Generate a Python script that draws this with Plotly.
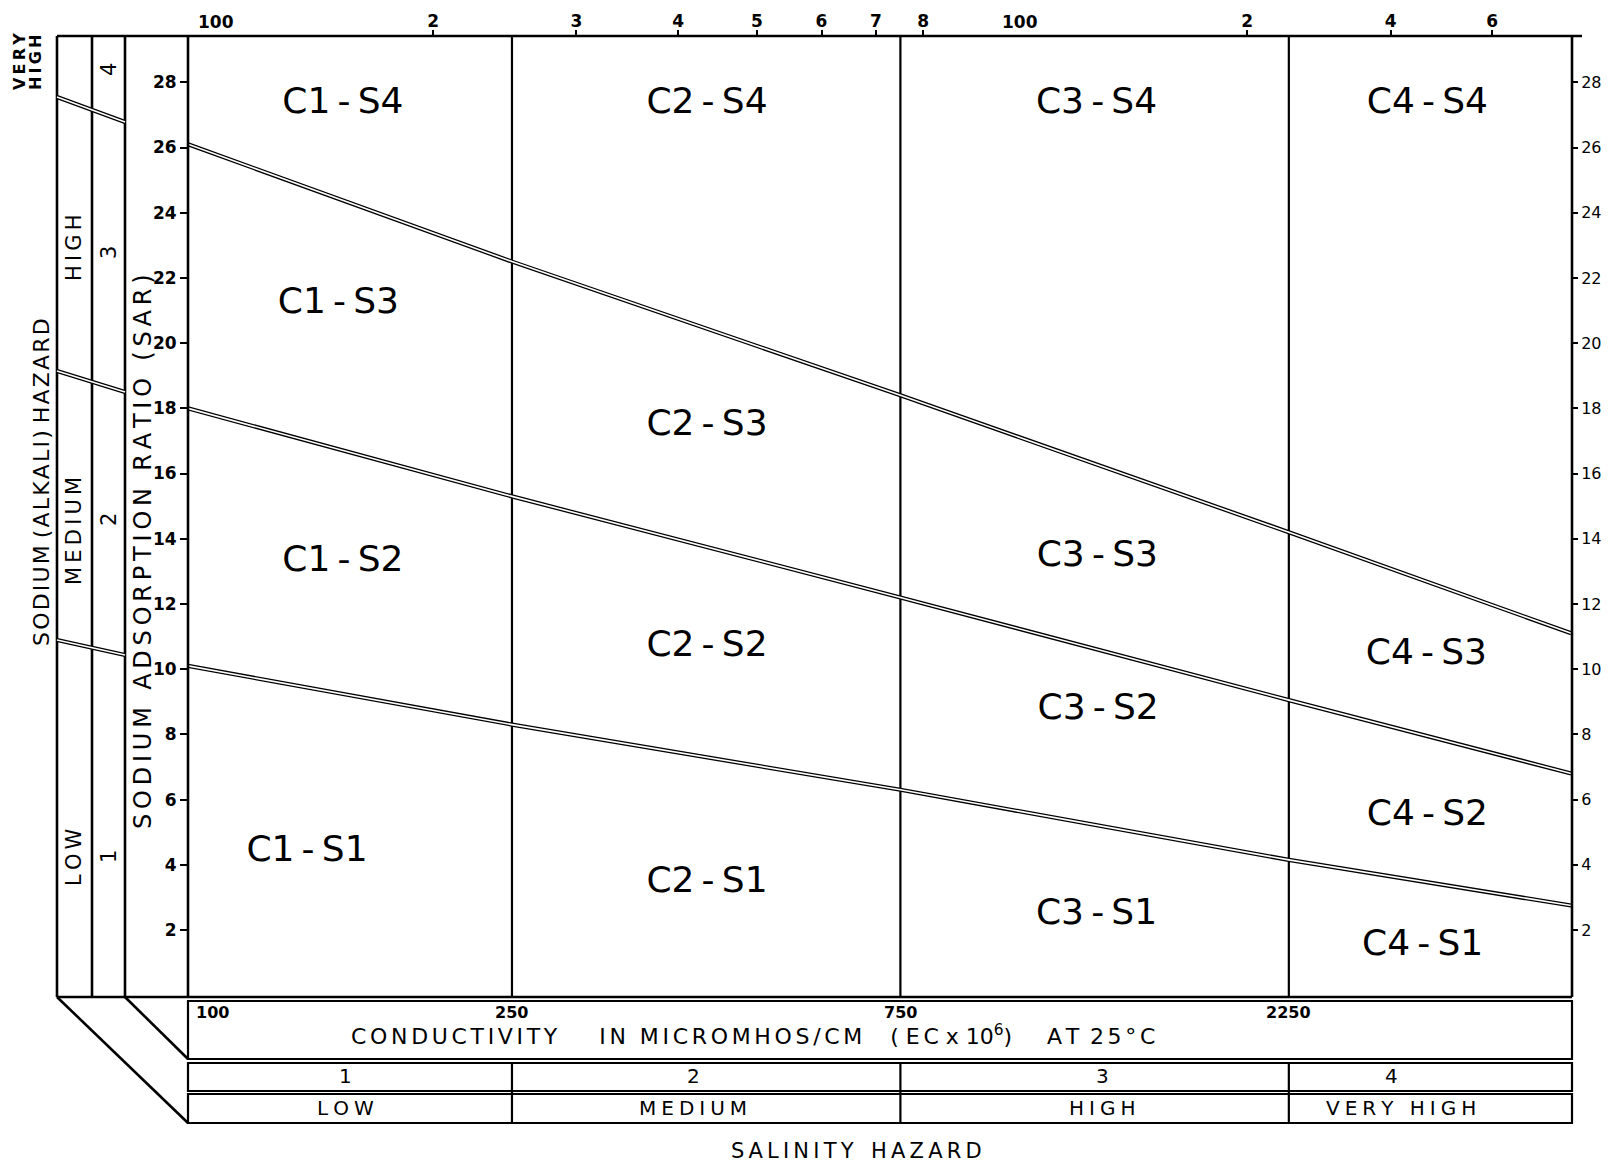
import numpy as np
import plotly.graph_objects as go

# ---------------- data ----------------
ec_points = [100, 250, 750, 2250, 5000]              # EC (micromhos/cm) where the class lines were read
sar_low_medium = [10.1, 8.3, 6.3, 4.15, 2.75]        # S1 / S2 boundary
sar_medium_high = [18.0, 15.3, 12.2, 9.05, 6.8]      # S2 / S3 boundary
sar_high_veryhigh = [26.1, 22.5, 18.4, 14.2, 11.1]   # S3 / S4 boundary

salinity_bounds = [250, 750, 2250]
salinity_numbers = ["1", "2", "3", "4"]
salinity_names = ["LOW", "MEDIUM", "HIGH", "VERY HIGH"]

sodium_numbers = ["4", "3", "2", "1"]
sodium_names = ["HIGH", "MEDIUM", "LOW"]

region_labels = ["C1-S4", "C2-S4", "C3-S4", "C4-S4",
                 "C1-S3", "C2-S3", "C3-S3", "C4-S3",
                 "C1-S2", "C2-S2", "C3-S2", "C4-S2",
                 "C1-S1", "C2-S1", "C3-S1", "C4-S1"]
region_ec = [155, 434, 1306, 3330,
             153, 434, 1309, 3320,
             155, 434, 1312, 3330,
             140, 434, 1306, 3285]
region_sar = [27.34, 27.34, 27.34, 27.34,
              21.2, 17.47, 13.44, 10.44,
              13.3, 10.67, 8.75, 5.49,
              4.4, 3.44, 2.46, 1.52]

sar_ticks = list(range(2, 29, 2))
top_tick_vals = [200, 300, 400, 500, 600, 700, 800, 2000, 3000, 4000]
top_tick_text = ["2", "3", "4", "5", "6", "7", "8", "2", "4", "6"]
top_decade_vals = [100, 1000]
top_decade_text = ["100", "100"]
bottom_mark_vals = [100, 250, 750, 2250]
bottom_mark_text = ["100", "250", "750", "2250"]

# label placements (EC for salinity class labels)
salinity_number_ec = [156, 418, 1327, 3006]
salinity_name_ec = [156, 417, 1327, 3090]

# ---------------- layout geometry ----------------
W, H = 1608, 1162
L, R, T, B = 188, 1572, 36, 997
X_RANGE = [2.0, 3.7]
Y_RANGE = [-0.055, 29.42]
FONT = "DejaVu Sans"


def px(x):
    return x / W


def py(y):
    return 1 - y / H


def ec_px(ec):
    return L + (R - L) * (np.log10(ec) - X_RANGE[0]) / (X_RANGE[1] - X_RANGE[0])


def sp(s, gap="\u2009", word="\u00a0\u00a0"):
    return word.join(gap.join(w) for w in s.split(" "))


fig = go.Figure()

# class boundary verticals
for b in salinity_bounds:
    fig.add_trace(go.Scatter(x=[b, b], y=Y_RANGE, mode="lines",
                             line=dict(color="black", width=2.2), hoverinfo="skip"))

# sodium hazard lines (double-line style)
for ys in [sar_low_medium, sar_medium_high, sar_high_veryhigh]:
    fig.add_trace(go.Scatter(x=ec_points, y=ys, mode="lines",
                             line=dict(color="black", width=4.2), hoverinfo="skip"))
    fig.add_trace(go.Scatter(x=ec_points, y=ys, mode="lines",
                             line=dict(color="white", width=1.6), hoverinfo="skip"))

# region labels
fig.add_trace(go.Scatter(
    x=region_ec, y=region_sar, mode="text",
    text=[t.replace("-", "\u2009-\u2009") for t in region_labels],
    textposition="middle center",
    textfont=dict(family=FONT, size=36, color="black"),
    hoverinfo="skip"))

# invisible trace to activate secondary axes
fig.add_trace(go.Scatter(x=[100, 5000], y=[0, 0], xaxis="x2", yaxis="y2", mode="markers",
                         marker=dict(opacity=0), hoverinfo="skip"))

shapes = []


def seg(x0, y0, x1, y1, w=2.6, color="black"):
    shapes.append(dict(type="line", xref="paper", yref="paper",
                       x0=px(x0), y0=py(y0), x1=px(x1), y1=py(y1),
                       line=dict(color=color, width=w)))


def rect(x0, y0, x1, y1, w=2.2):
    shapes.append(dict(type="rect", xref="paper", yref="paper",
                       x0=px(x0), y0=py(y0), x1=px(x1), y1=py(y1),
                       line=dict(color="black", width=w)))


# frame
seg(57, T, 1582, T)
seg(57, B, R, B)
for xv in [57, 92, 125, L, R]:
    seg(xv, T, xv, B)

# left panel slanted dividers (double lines)
for (y0, y1) in [(97, 122), (371, 392), (640, 655)]:
    seg(57, y0, 125, y1, w=4.2)
    seg(57, y0, 125, y1, w=1.6, color="white")

# perspective diagonals
seg(57, B, L, 1123)
seg(125, B, L, 1059)

# bottom boxes
rect(L, 1001, R, 1059)
rect(L, 1063, R, 1091)
rect(L, 1094, R, 1123)
for b in salinity_bounds:
    seg(ec_px(b), 1063, ec_px(b), 1123, w=2.2)

annotations = []


def ann(text, x, y, size, angle=0, bold=False, xanchor="center", yanchor="middle"):
    annotations.append(dict(text=text, x=px(x), y=py(y), xref="paper", yref="paper",
                            showarrow=False, textangle=angle,
                            font=dict(family=FONT, size=size, color="black",
                                      weight="bold" if bold else "normal"),
                            xanchor=xanchor, yanchor=yanchor))


# top decade labels
ann(top_decade_text[0], ec_px(top_decade_vals[0]) + 8, 22, 17, bold=True, xanchor="left")
ann(top_decade_text[1], ec_px(top_decade_vals[1]) - 2, 22, 17, bold=True, xanchor="left")

# bottom EC marks
for v, t in zip(bottom_mark_vals, bottom_mark_text):
    if v == 100:
        ann(t, ec_px(v) + 6, 1012, 16, bold=True, xanchor="left")
    else:
        ann(t, ec_px(v), 1012, 16, bold=True)

cond = (sp("CONDUCTIVITY", "\u2006") + "\u00a0" * 6 + sp("IN", "\u2006") + "\u00a0" * 2
        + sp("MICROMHOS/CM", "\u2006") + "\u00a0" * 4
        + "(\u00a0E\u2006C\u00a0x\u00a010<sup>6</sup>)" + "\u00a0" * 5
        + sp("AT", "\u2006") + "\u00a0\u2006" + sp("25°C", "\u2006"))
ann(cond, 753, 1035, 22)

for ec, t in zip(salinity_number_ec, salinity_numbers):
    ann(t, ec_px(ec), 1076, 20)
for ec, t in zip(salinity_name_ec, salinity_names):
    ann(sp(t, "\u2005", "\u00a0\u2005\u2005"), ec_px(ec), 1108, 20)

ann(sp("SALINITY HAZARD", "\u2009", "\u00a0\u00a0\u2009"), 856, 1151, 21)

# left side titles
ann(sp("SODIUM ADSORPTION RATIO (SAR)", "\u2009", "\u2009\u00a0\u2009"), 143, 552, 24, angle=-90)
ann(sp("SODIUM (ALKALI) HAZARD", "\u200a", "\u00a0"), 41, 482, 22, angle=-90)

# left panel classes
for t, y in zip(sodium_names, [248, 531, 857]):
    ann(sp(t, "\u2009"), 74, y, 21, angle=-90)
for t, y in zip(sodium_numbers, [70, 253, 520, 857]):
    ann(t, 109, y, 21, angle=-90)
ann(sp("VERY", "\u2009"), 19.5, 92, 16, angle=-90, bold=True, yanchor="bottom")
ann(sp("HIGH", "\u2009"), 35.5, 92, 16, angle=-90, bold=True, yanchor="bottom")

axis_common = dict(showgrid=False, zeroline=False, showline=False)
fig.update_layout(
    width=W, height=H,
    margin=dict(l=0, r=0, t=0, b=0),
    paper_bgcolor="white", plot_bgcolor="white",
    showlegend=False,
    xaxis=dict(type="log", range=X_RANGE, domain=[px(L), px(R)],
               showticklabels=False, ticks="", **axis_common),
    yaxis=dict(range=Y_RANGE, domain=[py(B), py(T)], tickmode="array", tickvals=sar_ticks,
               ticks="outside", ticklen=7, tickwidth=1.5, tickcolor="black",
               tickfont=dict(family=FONT, size=17, color="black", weight="bold"), **axis_common),
    xaxis2=dict(type="log", range=X_RANGE, overlaying="x", side="top", anchor="y",
                tickmode="array", tickvals=top_tick_vals, ticktext=top_tick_text,
                ticks="outside", ticklen=5, tickwidth=1.5, tickcolor="black",
                ticklabelstandoff=-4,
                tickfont=dict(family=FONT, size=17, color="black", weight="bold"), **axis_common),
    yaxis2=dict(range=Y_RANGE, overlaying="y", side="right", anchor="x",
                tickmode="array", tickvals=sar_ticks,
                ticks="outside", ticklen=5, tickwidth=1.5, tickcolor="black",
                tickfont=dict(family=FONT, size=16, color="black"), **axis_common),
    shapes=shapes,
    annotations=annotations,
)

fig.write_html("out.html")
